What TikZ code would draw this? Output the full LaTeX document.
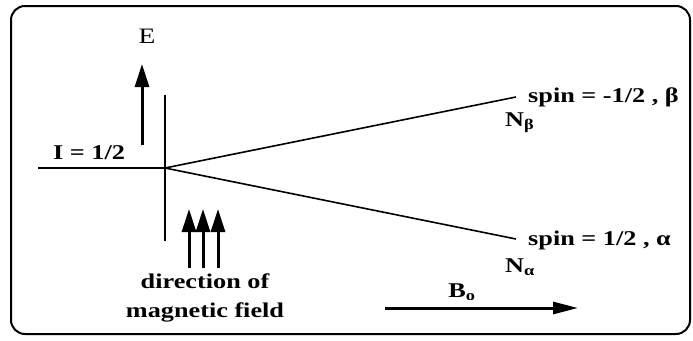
\documentclass[tikz,border=0pt]{standalone}
\usepackage{fontspec}
\setmainfont{Liberation Serif}
\newfontfamily\widefont[FakeStretch=1.25]{Liberation Serif}
\usetikzlibrary{arrows.meta, positioning}

\begin{document}
\begin{tikzpicture}[
    x=1pt, y=-1pt,
    level/.style={line width=1.6pt},
    fieldarrow/.style={-{Triangle[length=23pt, width=14pt]}, line width=3pt},
    lbl/.style={font=\widefont\fontsize{21}{29}\selectfont\bfseries, inner sep=0pt},
]
\useasboundingbox (0,0) rectangle (693,340);

% frame
\draw[line width=2pt, rounded corners=14pt] (11,6) rectangle (690,334);

% energy axis
\node[font=\widefont\fontsize{22}{22}\selectfont, inner sep=0pt, anchor=base] (E) at (147,43) {E};
\coordinate (Etail) at (142,145);
\draw[fieldarrow] (Etail) -- (142,64);

% level splitting
\coordinate (split) at (165,168);
\coordinate (start) at (38,168);
\coordinate (beta) at (516,97);
\coordinate (alpha) at (516,239);
\draw[level] (start) -- (split);
\draw[level] (165,95) -- (165,241);
\draw[level] (split) -- (beta);
\draw[level] (split) -- (alpha);

\node[lbl, anchor=base] (I) at (89,159) {I = 1/2};
\node[lbl, anchor=base west] (sb) at (528,102) {spin = -1/2 , β};
\node[lbl, anchor=base west] (sa) at (528,245) {spin = 1/2 , α};
\node[lbl, anchor=base west] (Nb) at (505,126) {N\textsubscript{β}};
\node[lbl, anchor=base west] (Na) at (505,272) {N\textsubscript{α}};

% direction of magnetic field
\foreach \i/\xx in {1/189, 2/203, 3/218}
    \draw[fieldarrow] (\xx,268) -- (\xx,209);
\node[lbl, align=center, anchor=base] (dir) at (205,317) {direction of\\magnetic field};

% B0
\node[lbl, anchor=base] (B) at (462,297) {B\textsubscript{o}};
\coordinate (Btail) at (385,308);
\coordinate (Bhead) at (578,308);
\draw[fieldarrow, -{Triangle[length=25pt, width=12pt]}] (Btail) -- (Bhead);
\end{tikzpicture}
\end{document}
